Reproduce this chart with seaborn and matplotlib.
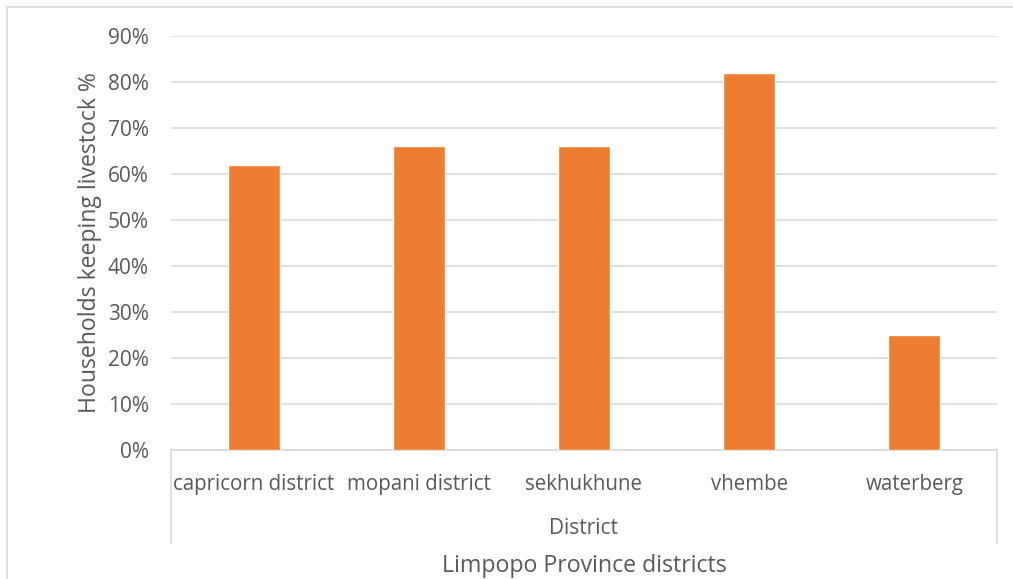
import numpy as np
import pandas as pd
import matplotlib.pyplot as plt
import seaborn as sns
from matplotlib.ticker import PercentFormatter

# data
districts = ["capricorn district", "mopani district", "sekhukhune", "vhembe", "waterberg"]
livestock_pct = [0.62, 0.66, 0.66, 0.82, 0.25]

df = pd.DataFrame({"district": districts, "pct": livestock_pct})

sns.set_theme(style="white")
plt.rcParams["font.family"] = ["Open Sans", "DejaVu Sans"]

text_col = "#595959"
grid_col = "#D9D9D9"

fig = plt.figure(figsize=(10.13, 5.79), dpi=100)
ax = fig.add_axes([0.1688, 0.2228, 0.8154, 0.715])

sns.barplot(data=df, x="district", y="pct", color="#ED7D31", width=0.315,
            saturation=1, ax=ax, zorder=3)

ax.set_ylim(0, 0.9)
ax.set_xlim(-0.5, len(districts) - 0.5)
ax.set_yticks(np.arange(0, 0.91, 0.1))
ax.yaxis.set_major_formatter(PercentFormatter(1.0, decimals=0))
ax.yaxis.grid(True, color=grid_col, linewidth=1.2, zorder=0)
ax.tick_params(axis="y", labelsize=15, labelcolor=text_col, length=0, pad=16)
ax.tick_params(axis="x", labelsize=14.8, labelcolor=text_col, length=0, pad=17)

for s in ["top", "right", "left"]:
    ax.spines[s].set_visible(False)
ax.spines["bottom"].set_color(grid_col)
ax.spines["bottom"].set_linewidth(1.2)

ax.set_xlabel("")
ax.set_ylabel("Households keeping livestock %", fontsize=16.6, color=text_col, labelpad=4)

# multi-level category box (Excel style)
ax.plot([0, 0], [0, -0.225], transform=ax.transAxes, color=grid_col, lw=1.2, clip_on=False)
ax.plot([1, 1], [0, -0.225], transform=ax.transAxes, color=grid_col, lw=1.2, clip_on=False)
ax.text(0.5, -0.19, "District", transform=ax.transAxes, ha="center", va="center",
        fontsize=15, color=text_col)
ax.text(0.5, -0.28, "Limpopo Province districts", transform=ax.transAxes, ha="center",
        va="center", fontsize=16.7, color=text_col)

# outer chart border
fig.add_artist(plt.Rectangle((7 / 1013, -0.05), 1.1, 1 - 7 / 579 + 0.05,
                             transform=fig.transFigure, fill=False,
                             edgecolor="#D9D9D9", linewidth=1.2))

fig.savefig("out.png", dpi=100)
